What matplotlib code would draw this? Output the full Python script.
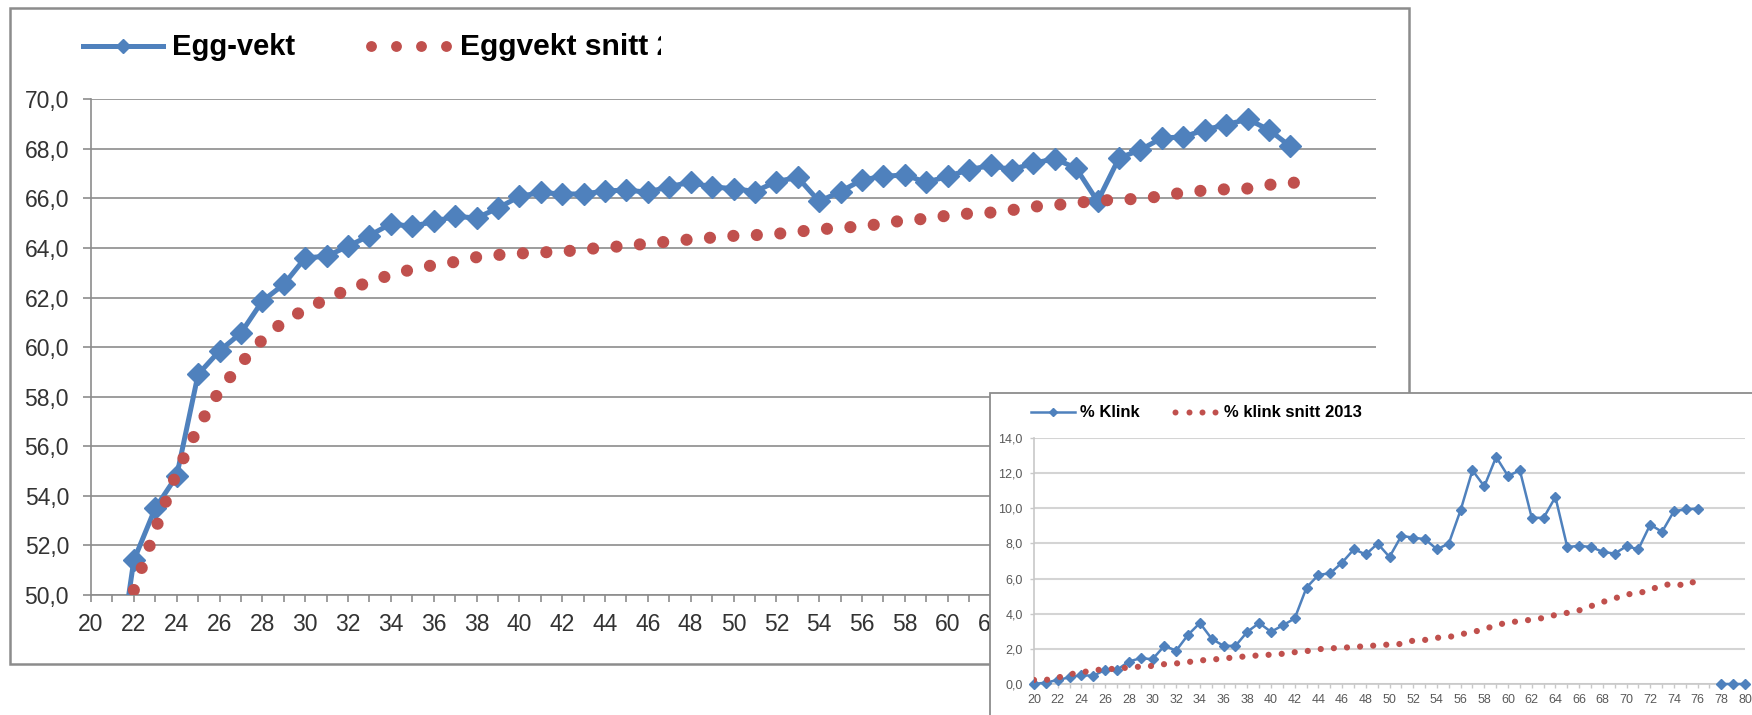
import numpy as np
import matplotlib
matplotlib.use("Agg")
import matplotlib.pyplot as plt
from matplotlib.lines import Line2D
from matplotlib.patches import Rectangle
from matplotlib.transforms import Bbox, TransformedBbox

plt.rcParams['font.family'] = ['Liberation Sans', 'DejaVu Sans']

# --- data: eggvekt (stor figur) ---
uker_egg = list(range(21, 77))
egg_vekt = [45.5, 51.4, 53.5, 54.8, 58.9, 59.85, 60.57, 61.86, 62.53, 63.6,
            63.67, 64.07, 64.5, 64.98, 64.87, 65.07, 65.28, 65.21, 65.61, 66.08,
            66.24, 66.18, 66.18, 66.3, 66.34, 66.25, 66.48, 66.65, 66.46, 66.4,
            66.28, 66.68, 66.85, 65.88, 66.28, 66.75, 66.89, 66.95, 66.65, 66.89,
            67.16, 67.33, 67.16, 67.42, 67.6, 67.22, 65.88, 67.63, 67.96, 68.44,
            68.48, 68.77, 68.97, 69.2, 68.77, 68.1]

uker_egg_snitt = list(range(22, 78))
egg_snitt = [50.2, 52.63, 54.94, 56.76, 58.25, 59.34, 60.3, 61.04, 61.52, 61.94,
             62.33, 62.63, 62.92, 63.14, 63.31, 63.44, 63.63, 63.72, 63.78, 63.82,
             63.86, 63.93, 64.04, 64.07, 64.19, 64.26, 64.35, 64.42, 64.49, 64.52,
             64.57, 64.66, 64.75, 64.82, 64.87, 64.99, 65.12, 65.18, 65.31, 65.39,
             65.43, 65.53, 65.67, 65.73, 65.82, 65.91, 65.95, 65.99, 66.09, 66.24,
             66.32, 66.37, 66.40, 66.55, 66.63, 66.66]

# --- data: % klink (liten figur) ---
uker_klink = list(range(20, 81))
klink = [0.0, 0.08, 0.23, 0.38, 0.5, 0.47, 0.8, 0.8, 1.28, 1.47,
         1.41, 2.17, 1.9, 2.8, 3.47, 2.57, 2.17, 2.17, 2.97, 3.47,
         2.97, 3.34, 3.73, 5.49, 6.21, 6.3, 6.91, 7.67, 7.37, 7.99,
         7.23, 8.43, 8.33, 8.24, 7.67, 7.99, 9.89, 12.16, 11.25, 12.92,
         11.84, 12.16, 9.47, 9.45, 10.64, 7.8, 7.86, 7.8, 7.52, 7.42,
         7.84, 7.67, 9.07, 8.66, 9.83, 9.94, 9.98, np.nan, 0.0, 0.0, 0.0]

uker_klink_snitt = list(range(20, 77))
klink_snitt = [0.23, 0.23, 0.36, 0.55, 0.66, 0.78, 0.84, 0.87, 0.94, 0.99,
               1.03, 1.13, 1.17, 1.25, 1.34, 1.39, 1.45, 1.52, 1.58, 1.63,
               1.67, 1.72, 1.81, 1.87, 1.98, 2.03, 2.06, 2.11, 2.15, 2.2,
               2.25, 2.28, 2.47, 2.51, 2.63, 2.67, 2.83, 2.95, 3.12, 3.35,
               3.5, 3.58, 3.66, 3.76, 3.93, 4.05, 4.19, 4.43, 4.67, 4.87,
               5.1, 5.16, 5.36, 5.62, 5.7, 5.6, 5.92]

blaa = '#4F81BD'
roed = '#C0504D'
graa = '#8C8C8C'

W, H = 1752, 715
fig = plt.figure(figsize=(W / 100, H / 100), dpi=100)

def fx(x):
    return x / W

def fy(y):
    return 1 - y / H

def komma(v):
    return f"{v:.1f}".replace('.', ',')

# ramme rundt stor figur
fig.add_artist(Rectangle((fx(10), fy(664)), fx(1409) - fx(10), fy(8) - fy(664),
                         transform=fig.transFigure, fill=False, ec=graa, lw=1.8, zorder=4))

# stor figur
ax = fig.add_axes([fx(91), fy(595), fx(1376) - fx(91), fy(99.3) - fy(595)])
ax.plot(uker_egg, egg_vekt, color=blaa, lw=3.6, marker='D', ms=11.5, mec=blaa, zorder=3)
ax.plot(uker_egg_snitt, egg_snitt, color=roed, lw=8.8, linestyle=(0, (0.001, 1.92)),
        dash_capstyle='round', zorder=4)
ax.set_xlim(20, 80)
ax.set_ylim(50, 70)
yt = np.arange(50, 71, 2)
ax.set_yticks(yt)
ax.set_yticklabels([komma(v) for v in yt])
ax.set_xticks(range(20, 81))
ax.set_xticklabels([str(u) if u % 2 == 0 else '' for u in range(20, 81)])
ax.yaxis.grid(True, color=graa, lw=1.2)
ax.set_axisbelow(True)
for s in ['top', 'right']:
    ax.spines[s].set_visible(False)
for s in ['left', 'bottom']:
    ax.spines[s].set_color(graa)
    ax.spines[s].set_linewidth(1.2)
ax.tick_params(axis='y', length=5.8, width=1.2, color=graa, pad=10, labelsize=16.5, labelcolor='#333333')
ax.tick_params(axis='x', length=5, width=1.2, color=graa, pad=8, labelsize=16.5, labelcolor='#333333')

# legende stor figur
fig.add_artist(Line2D([fx(83), fx(163)], [fy(46), fy(46)], color=blaa, lw=3.6,
                      transform=fig.transFigure, zorder=4))
fig.add_artist(Line2D([fx(123)], [fy(46)], color=blaa, marker='D', ms=7.5,
                      transform=fig.transFigure, zorder=4))
fig.text(fx(172), fy(55), 'Egg-vekt', fontsize=21, fontweight='bold', va='baseline', zorder=4)
fig.add_artist(Line2D([fx(371), fx(396), fx(421), fx(446)], [fy(46)] * 4, ls='none',
                      marker='o', ms=7.8, mew=0, color=roed, transform=fig.transFigure, zorder=4))
t = fig.text(fx(460), fy(55), 'Eggvekt snitt 2013', fontsize=21.6, fontweight='bold',
             va='baseline', zorder=4)
t.set_clip_box(TransformedBbox(Bbox([[0, 0], [fx(661), 1]]), fig.transFigure))
t.set_clip_on(True)

# liten figur oppå
fig.add_artist(Rectangle((fx(990), fy(740)), fx(1780) - fx(990), fy(393) - fy(740),
                         transform=fig.transFigure, fc='white', ec=graa, lw=1.3, zorder=5))

ax2 = fig.add_axes([fx(1034), fy(684), fx(1745) - fx(1034), fy(438) - fy(684)])
ax2.set_zorder(6)
ax2.plot(uker_klink, klink, color=blaa, lw=1.8, marker='D', ms=5.5, mec=blaa, clip_on=False, zorder=3)
ax2.plot(uker_klink_snitt, klink_snitt, color=roed, lw=4.5, linestyle=(0, (0.001, 2.1)),
         dash_capstyle='round', zorder=4)
ax2.set_xlim(20, 80)
ax2.set_ylim(0, 14)
yt2 = np.arange(0, 15, 2)
ax2.set_yticks(yt2)
ax2.set_yticklabels([komma(v) for v in yt2])
ax2.set_xticks(range(20, 81))
ax2.set_xticklabels([str(u) if u % 2 == 0 else '' for u in range(20, 81)])
ax2.yaxis.grid(True, color='#D4D4D4', lw=1.5)
ax2.set_axisbelow(True)
for s in ['top', 'right']:
    ax2.spines[s].set_visible(False)
for s in ['left', 'bottom']:
    ax2.spines[s].set_color('#C8C8C8')
    ax2.spines[s].set_linewidth(1.2)
ax2.tick_params(axis='y', length=3, width=1, color='#C8C8C8', pad=5, labelsize=9, labelcolor='#595959')
ax2.tick_params(axis='x', length=3, width=1, color='#C8C8C8', pad=4, labelsize=9, labelcolor='#595959')

# legende liten figur
fig.add_artist(Line2D([fx(1031), fx(1075)], [fy(412), fy(412)], color=blaa, lw=1.8,
                      transform=fig.transFigure, zorder=7))
fig.add_artist(Line2D([fx(1053)], [fy(412)], color=blaa, marker='D', ms=4.5,
                      transform=fig.transFigure, zorder=7))
fig.text(fx(1080), fy(417), '% Klink', fontsize=12, fontweight='bold', va='baseline', zorder=7)
fig.add_artist(Line2D([fx(1175), fx(1189), fx(1202), fx(1215)], [fy(412)] * 4, ls='none',
                      marker='o', ms=4.3, mew=0, color=roed, transform=fig.transFigure, zorder=7))
fig.text(fx(1224), fy(417), '% klink snitt 2013', fontsize=12, fontweight='bold',
         va='baseline', zorder=7)

fig.savefig('out.png', dpi=100)
